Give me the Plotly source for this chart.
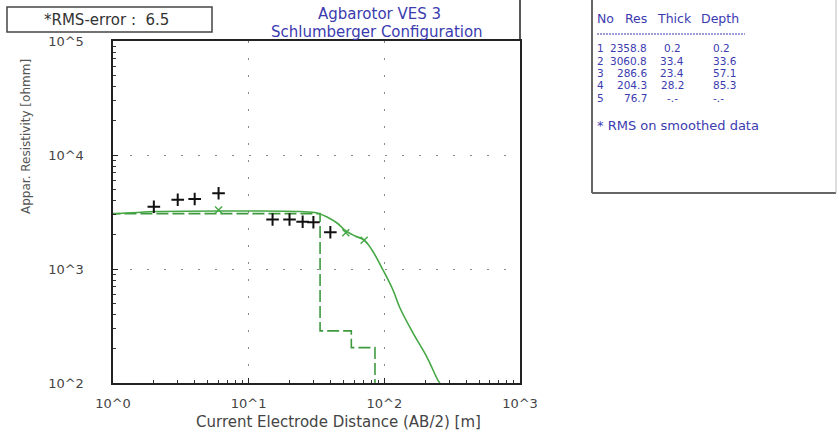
import plotly.graph_objects as go

# ---- field data: apparent resistivity vs AB/2 ----
ab2_obs = [2, 3, 4, 6, 15, 20, 25, 30, 40]
rho_obs = [3520, 4055, 4111, 4613, 2718, 2718, 2600, 2570, 2098]

# smoothed data points visible off the flat section
ab2_smooth = [6, 52, 71]
rho_smooth = [3296, 2080, 1786]

# calculated (model) sounding curve
ab2_calc = [1.0, 2.11, 10.2, 23.9, 31.9, 37.8, 44.8, 52.2, 60.8, 70.8, 81.1,
            97.8, 115.8, 130.4, 162.5, 206, 248, 257]
rho_calc = [3038, 3192, 3226, 3192, 3099, 2858, 2532, 2154, 1948, 1797, 1468,
            980, 654, 455, 275, 169, 106, 100]

# layered model (inversion result)
layer_no = [1, 2, 3, 4, 5]
layer_res = [2358.8, 3060.8, 286.6, 204.3, 76.7]
layer_thick = ["0.2", "33.4", "23.4", "28.2", "-.-"]
layer_depth = ["0.2", "33.6", "57.1", "85.3", "-.-"]
depth_vals = [0.2, 33.6, 57.1, 85.3]
rms_error = 6.5

x_ticks = [1, 10, 100, 1000]
x_ticktext = ["10^0", "10^1", "10^2", "10^3"]
y_ticks = [100, 1000, 10000, 100000]
y_ticktext = ["10^2", "10^3", "10^4", "10^5"]

W, H = 839, 434
L, R, T, B = 113, 520, 41, 383


def px(xp):
    return (xp - L) / (R - L)


def py(yp):
    return (B - yp) / (B - T)


BLUE = "#3b3bb0"
GREEN = "#45a845"
FONT = "DejaVu Sans"
PAD = "\u00a0" * 6  # keeps y tick labels clear of the axis

# step profile of the model: start a bit left of the axis so layer 1 is clipped
model_x = [0.1] + depth_vals + [2000]
model_y = layer_res + [layer_res[-1]]

fig = go.Figure()

fig.add_trace(go.Scatter(
    x=model_x, y=model_y, mode="lines", line_shape="hv",
    line=dict(color="#3f9a3f", width=1.6, dash="12px,4px"),
    showlegend=False, hoverinfo="skip"))

fig.add_trace(go.Scatter(
    x=ab2_calc, y=rho_calc, mode="lines", line_shape="spline",
    line=dict(color=GREEN, width=1.6),
    showlegend=False))

fig.add_trace(go.Scatter(
    x=ab2_smooth, y=rho_smooth, mode="markers",
    marker=dict(symbol="x-thin", size=7, line=dict(width=1.4, color=GREEN)),
    showlegend=False))

fig.add_trace(go.Scatter(
    x=ab2_obs, y=rho_obs, mode="markers",
    marker=dict(symbol="cross-thin", size=9, color="#111",
                line=dict(width=2, color="#111")),
    showlegend=False))

axis_common = dict(
    type="log", showline=True, linecolor="#222", linewidth=1.5, mirror=True,
    showgrid=True, gridcolor="#8a8a8a", gridwidth=1, griddash="2px,15px",
    zeroline=False, ticks="inside", ticklen=5, tickcolor="#222",
    tickfont=dict(family=FONT, size=13, color="#444"),
    minor=dict(ticks="inside", ticklen=3, tickcolor="#333", dtick="D1",
               showgrid=False),
)

fig.update_xaxes(range=[0, 3], tickmode="array", tickvals=x_ticks,
                 ticktext=x_ticktext, ticklabelstandoff=8, **axis_common)
fig.update_yaxes(range=[2, 5], tickmode="array", tickvals=y_ticks,
                 ticktext=[t + PAD for t in y_ticktext], **axis_common)

annotations = [
    dict(x=px(379), y=py(14), text="Agbarotor VES 3",
         font=dict(family=FONT, size=15, color=BLUE)),
    dict(x=px(377), y=py(32), text="Schlumberger Configuration",
         font=dict(family=FONT, size=15, color=BLUE)),
    dict(x=px(106), y=py(20), text=f"*RMS-error :  {rms_error}",
         font=dict(family=FONT, size=15, color="#333")),
    dict(x=px(338), y=py(422), text="Current Electrode Distance (AB/2) [m]",
         font=dict(family=FONT, size=15, color="#444")),
    dict(x=px(26), y=py(137), text="Appar. Resistivity [ohmm]", textangle=-90,
         font=dict(family=FONT, size=12, color="#555")),
]

# layer table
hfont = dict(family=FONT, size=12.5, color=BLUE)
tfont = dict(family=FONT, size=10.5, color=BLUE)
for label, xl in [("No", 596), ("Res", 624), ("Thick", 656), ("Depth", 700)]:
    annotations.append(dict(x=px(xl), y=py(18), text=label, xanchor="left",
                            font=hfont))
row_y = [48.5, 60.8, 73.1, 85.4, 97.7]
for i, yv in enumerate(row_y):
    annotations.append(dict(x=px(596), y=py(yv), text=str(layer_no[i]),
                            xanchor="left", font=tfont))
    annotations.append(dict(x=px(648), y=py(yv), text=f"{layer_res[i]:.1f}",
                            xanchor="right", font=tfont))
    annotations.append(dict(x=px(672), y=py(yv), text=layer_thick[i],
                            xanchor="center", font=tfont))
    annotations.append(dict(x=px(712), y=py(yv), text=layer_depth[i],
                            xanchor="left", font=tfont))
annotations.append(dict(x=px(596), y=py(125), text="* RMS on smoothed data",
                        xanchor="left", font=dict(family=FONT, size=13, color=BLUE)))

for a in annotations:
    a.update(xref="paper", yref="paper", showarrow=False, borderpad=0)
    a.setdefault("xanchor", "center")
    a.setdefault("yanchor", "middle")

shapes = [
    # RMS box
    dict(type="rect", x0=px(7), x1=px(212), y0=py(32), y1=py(7),
         line=dict(color="#444", width=1.5)),
    # right frame continues to the top edge
    dict(type="line", x0=1, x1=1, y0=1, y1=py(0),
         line=dict(color="#222", width=1.5)),
    # table frame
    dict(type="line", x0=px(592), x1=px(592), y0=py(193), y1=py(-2),
         line=dict(color="#666", width=2)),
    dict(type="line", x0=px(592), x1=px(836), y0=py(193), y1=py(193),
         line=dict(color="#666", width=2)),
    dict(type="line", x0=px(836), x1=px(836), y0=py(193), y1=py(-2),
         line=dict(color="#bbb", width=1)),
    # separator under table header
    dict(type="line", x0=px(597), x1=px(745), y0=py(34), y1=py(34),
         line=dict(color=BLUE, width=1, dash="2px,1px")),
]
for s in shapes:
    s.update(xref="paper", yref="paper")

fig.update_layout(
    width=W, height=H,
    margin=dict(l=L, r=W - R, t=T, b=H - B),
    paper_bgcolor="white", plot_bgcolor="white",
    showlegend=False,
    annotations=annotations, shapes=shapes,
    font=dict(family=FONT),
)

fig.write_html("out.html")
